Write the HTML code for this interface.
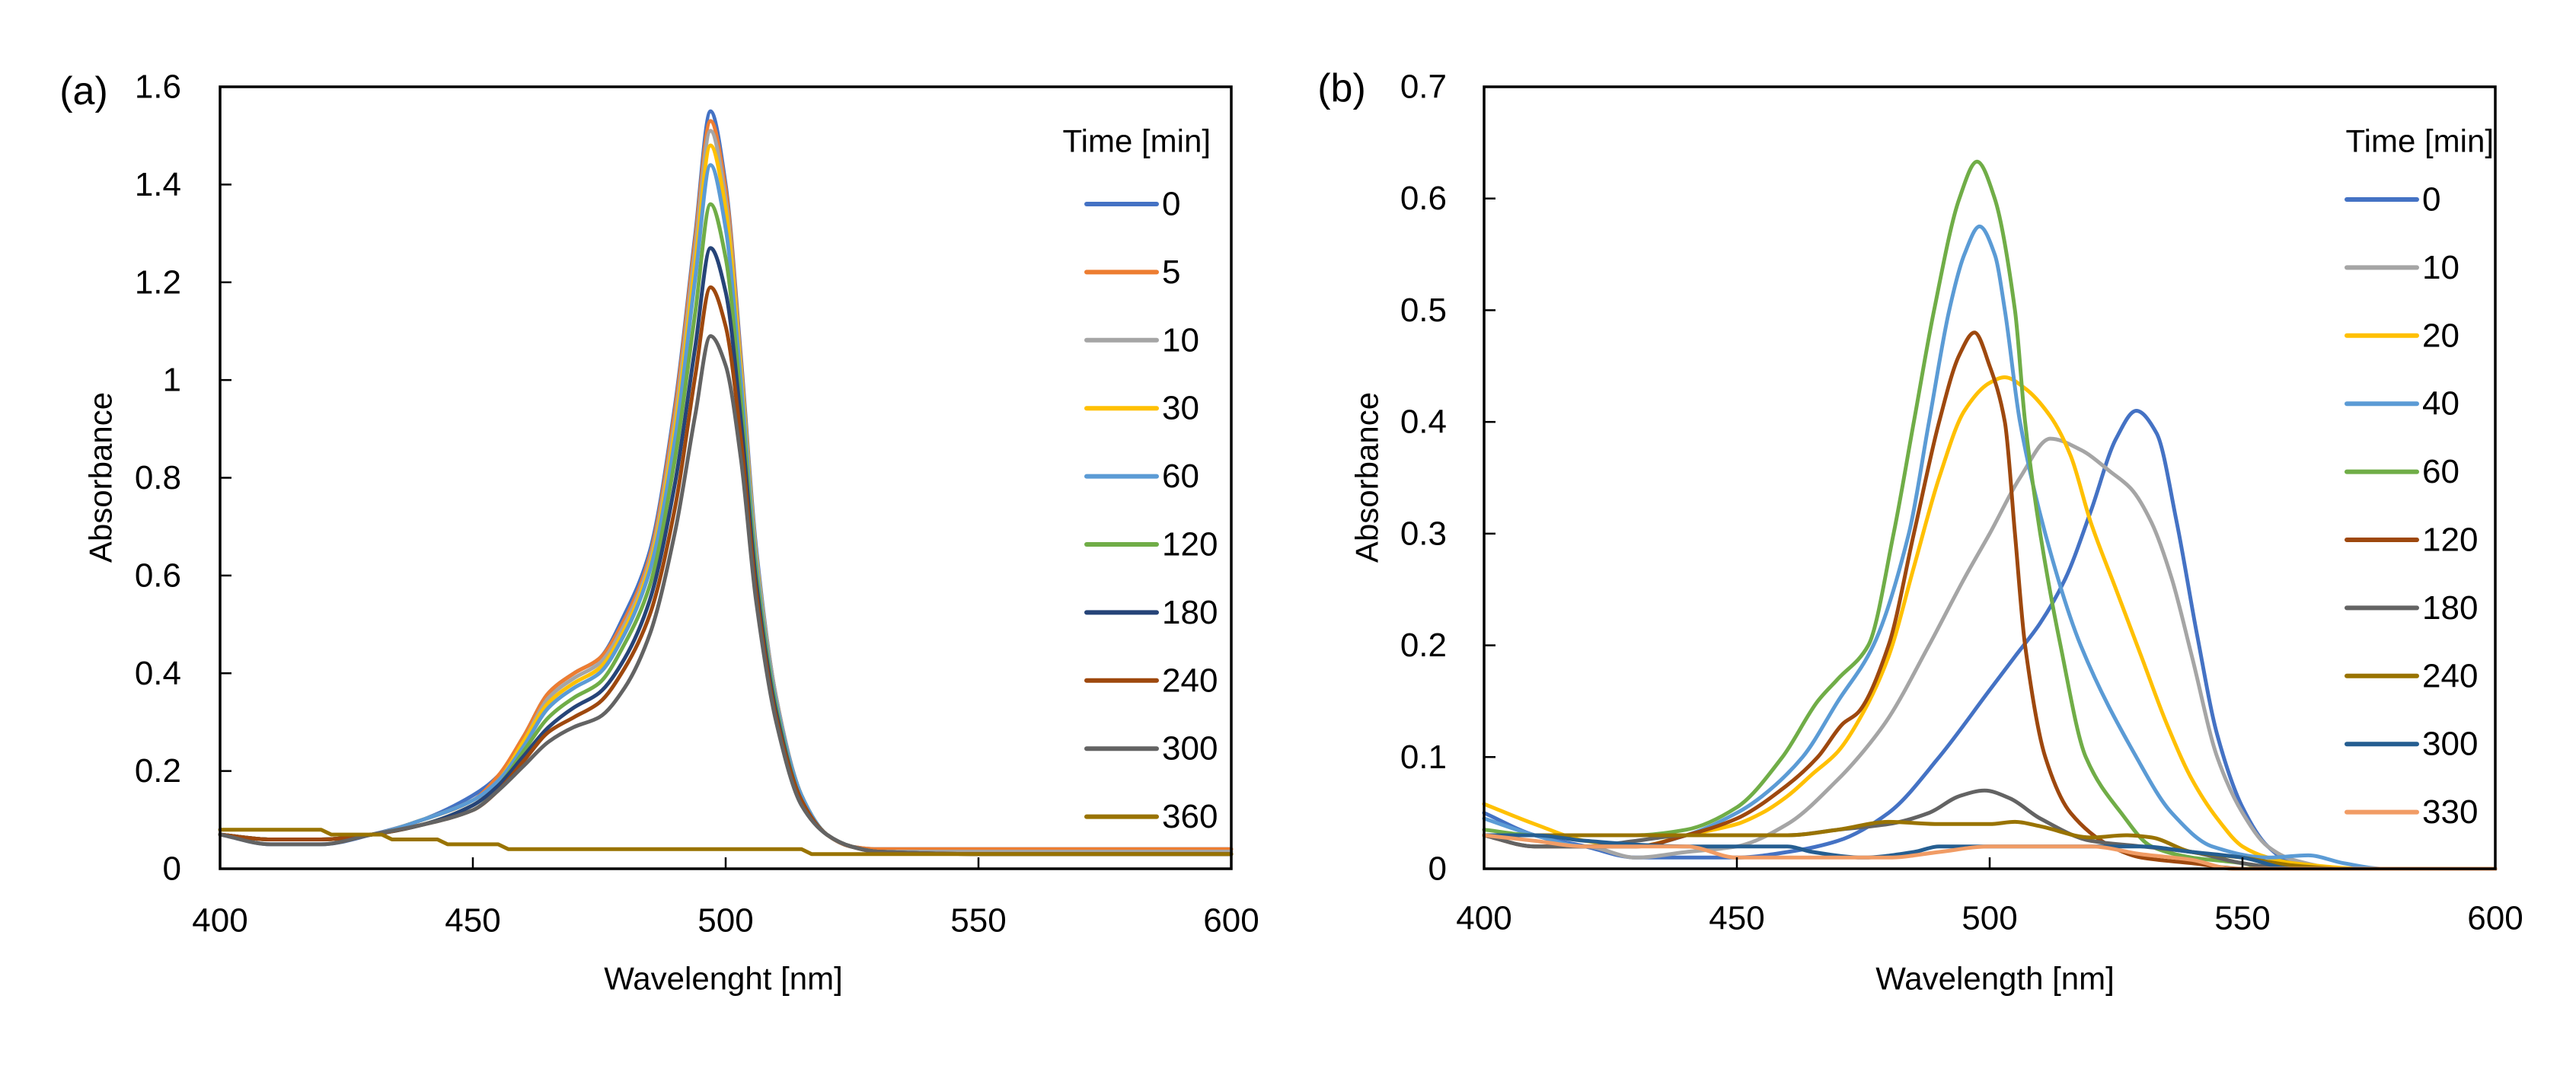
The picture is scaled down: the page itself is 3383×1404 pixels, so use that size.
<!DOCTYPE html>
<html><head><meta charset="utf-8">
<style>
html,body{margin:0;padding:0;background:#fff;}
svg{display:block;font-family:"Liberation Sans",sans-serif;}
</style></head>
<body>
<svg id="fig" width="3383" height="1404" viewBox="0 0 3383 1404" xmlns="http://www.w3.org/2000/svg">
<rect width="3383" height="1404" fill="#fff"/>
<g id="chartA"></g>
<g id="chartB"></g>
</svg>
<script>
// ---- Chart (a) data ----
const aLabels = ["0","5","10","30","60","120","180","240","300","360"];
const aColors = ["#4472C4","#ED7D31","#A5A5A5","#FFC000","#5B9BD5","#70AD47","#264478","#9E480E","#636363","#997300"];
const aX = [400,410,420,430,440,450,455,460,465,470,475,480,485,490,494,497,500,503,506,510,515,520,525,530,550,600];
const aY0 = [0.07,0.05,0.05,0.07,0.10,0.15,0.19,0.27,0.36,0.40,0.43,0.52,0.65,0.95,1.30,1.55,1.40,1.05,0.66,0.35,0.15,0.07,0.045,0.04,0.04,0.04];
const aY5 = [0.07,0.06,0.06,0.07,0.10,0.14,0.19,0.27,0.36,0.40,0.43,0.51,0.64,0.94,1.29,1.53,1.39,1.04,0.65,0.35,0.15,0.07,0.045,0.04,0.04,0.04];
const aY10 = [0.07,0.06,0.06,0.07,0.10,0.14,0.18,0.26,0.35,0.39,0.42,0.50,0.63,0.92,1.27,1.51,1.37,1.03,0.65,0.35,0.15,0.07,0.045,0.035,0.035,0.035];
const aY30 = [0.07,0.06,0.06,0.07,0.10,0.14,0.18,0.26,0.34,0.38,0.41,0.49,0.62,0.90,1.24,1.48,1.35,1.02,0.64,0.34,0.15,0.07,0.045,0.035,0.03,0.03];
const aY60 = [0.07,0.06,0.06,0.07,0.10,0.14,0.18,0.25,0.33,0.37,0.40,0.48,0.61,0.88,1.21,1.44,1.31,1.00,0.63,0.34,0.15,0.07,0.045,0.035,0.03,0.03];
const aY120 = [0.07,0.06,0.06,0.07,0.09,0.13,0.17,0.24,0.31,0.35,0.38,0.46,0.58,0.84,1.14,1.36,1.25,0.96,0.61,0.33,0.14,0.07,0.045,0.035,0.03,0.03];
const aY180 = [0.07,0.06,0.06,0.07,0.09,0.13,0.17,0.23,0.29,0.33,0.36,0.43,0.55,0.79,1.07,1.27,1.18,0.92,0.59,0.32,0.14,0.07,0.045,0.035,0.03,0.03];
const aY240 = [0.07,0.06,0.06,0.07,0.09,0.12,0.16,0.22,0.28,0.31,0.34,0.41,0.52,0.74,1.01,1.19,1.11,0.88,0.57,0.31,0.14,0.07,0.045,0.035,0.03,0.03];
const aY300 = [0.07,0.05,0.05,0.07,0.09,0.12,0.16,0.21,0.26,0.29,0.31,0.37,0.48,0.69,0.93,1.09,1.03,0.84,0.55,0.30,0.13,0.07,0.045,0.035,0.03,0.03];
const aX360 = [400,420,422,432,434,443,445,455,457,515,517,600];
const aY360 = [0.08,0.08,0.07,0.07,0.06,0.06,0.05,0.05,0.04,0.04,0.03,0.03];
const aYTicks = [0,0.2,0.4,0.6,0.8,1,1.2,1.4,1.6];
const aYTickLabels = ["0","0.2","0.4","0.6","0.8","1","1.2","1.4","1.6"];
const xTicks = [400,450,500,550,600];
const xTickLabels = ["400","450","500","550","600"];

// ---- Chart (b) data ----
const bLabels = ["0","10","20","40","60","120","180","240","300","330"];
const bColors = ["#4472C4","#A5A5A5","#FFC000","#5B9BD5","#70AD47","#9E480E","#636363","#997300","#255E91","#F19C65"];
const bX0 = [400,410,420,430,440,450,460,470,480,490,500,505,510,515,520,525,529,533,537,541,545,550,555,560,570,600];
const bY0 = [0.05,0.03,0.02,0.01,0.01,0.01,0.015,0.025,0.05,0.10,0.16,0.19,0.22,0.26,0.32,0.385,0.41,0.39,0.31,0.21,0.12,0.055,0.02,0.005,0,0];
const bX10 = [400,410,420,430,440,450,460,470,475,480,488,495,500,506,512,518,524,528,532,536,540,545,550,555,560,570,600];
const bY10 = [0.03,0.02,0.02,0.01,0.015,0.02,0.04,0.08,0.105,0.135,0.20,0.26,0.30,0.35,0.385,0.375,0.355,0.34,0.31,0.26,0.19,0.10,0.05,0.02,0.008,0,0];
const bX20 = [400,410,420,430,440,450,455,460,465,470,475,480,485,490,495,500,503,507,512,516,520,525,530,535,540,545,550,555,560,575,600];
const bY20 = [0.058,0.04,0.025,0.02,0.03,0.04,0.05,0.065,0.085,0.105,0.14,0.19,0.27,0.35,0.41,0.435,0.44,0.43,0.405,0.37,0.31,0.25,0.19,0.13,0.08,0.045,0.02,0.01,0.005,0,0];
const bX40 = [400,410,420,430,440,450,455,463,470,477,484,488,492,495,498,501,503,506,511,518,529,536,544,555,563,570,578,600];
const bY40 = [0.045,0.03,0.02,0.02,0.03,0.05,0.065,0.10,0.15,0.20,0.30,0.40,0.50,0.55,0.575,0.55,0.50,0.40,0.30,0.20,0.10,0.05,0.02,0.01,0.012,0.005,0,0];
const bX60 = [400,410,420,430,440,450,459,466,470,476,481,485,489,494,497.5,501,505,507,510,514,519,526,532,540,550,555,600];
const bY60 = [0.035,0.03,0.03,0.03,0.035,0.055,0.10,0.15,0.17,0.20,0.30,0.40,0.50,0.60,0.633,0.60,0.50,0.40,0.30,0.20,0.10,0.05,0.02,0.01,0.005,0,0];
const bX120 = [400,410,420,430,440,450,460,466,471,474,480,485,490,494,497,500,503,505,507,511,516,524,530,540,550,600];
const bY120 = [0.03,0.02,0.02,0.02,0.03,0.045,0.075,0.10,0.13,0.14,0.20,0.30,0.40,0.46,0.48,0.45,0.40,0.30,0.20,0.10,0.05,0.02,0.01,0.005,0,0];
const bX180 = [400,410,420,430,440,450,460,470,480,488,494,499,504,510,520,530,540,550,560,600];
const bY180 = [0.03,0.02,0.02,0.025,0.03,0.03,0.03,0.035,0.04,0.05,0.065,0.07,0.063,0.045,0.025,0.02,0.015,0.005,0,0];
const bX240 = [400,410,440,460,470,480,490,500,505,510,520,527,532,540,550,560,570,600];
const bY240 = [0.03,0.03,0.03,0.03,0.035,0.042,0.04,0.04,0.042,0.038,0.028,0.03,0.028,0.015,0.01,0.003,0,0];
const bX300 = [400,410,420,440,460,465,475,485,490,500,510,520,530,540,550,560,600];
const bY300 = [0.03,0.03,0.025,0.02,0.02,0.015,0.01,0.015,0.02,0.02,0.02,0.02,0.02,0.015,0.01,0,0];
const bX330 = [400,410,420,430,440,450,460,470,480,490,500,510,520,530,540,548,600];
const bY330 = [0.03,0.025,0.02,0.02,0.02,0.01,0.01,0.01,0.01,0.015,0.02,0.02,0.02,0.013,0.008,0,0];
const bYTicks = [0,0.1,0.2,0.3,0.4,0.5,0.6,0.7];
const bYTickLabels = ["0","0.1","0.2","0.3","0.4","0.5","0.6","0.7"];

const NS = "http://www.w3.org/2000/svg";
function mk(tag, attrs, parent){
  const e = document.createElementNS(NS, tag);
  for (const k in attrs) e.setAttribute(k, attrs[k]);
  parent.appendChild(e);
  return e;
}
function monotonePath(px, py){
  const n = px.length;
  if (n < 2) return "";
  const d = [], m = new Array(n);
  for (let i=0;i<n-1;i++) d.push((py[i+1]-py[i])/(px[i+1]-px[i]));
  m[0]=d[0]; m[n-1]=d[n-2];
  for (let i=1;i<n-1;i++){
    if (d[i-1]*d[i] <= 0) m[i]=0;
    else m[i] = 2/(1/d[i-1]+1/d[i]);
  }
  let s = "M"+px[0].toFixed(1)+","+py[0].toFixed(1);
  for (let i=0;i<n-1;i++){
    const h = px[i+1]-px[i];
    s += " C"+(px[i]+h/3).toFixed(1)+","+(py[i]+m[i]*h/3).toFixed(1)+" "+(px[i+1]-h/3).toFixed(1)+","+(py[i+1]-m[i+1]*h/3).toFixed(1)+" "+px[i+1].toFixed(1)+","+py[i+1].toFixed(1);
  }
  return s;
}

function drawChart(g, cfg){
  const L=cfg.left, R=cfg.right, T=cfg.top, B=cfg.bottom;
  const xs = v => L + (v-400)/200*(R-L);
  const ys = v => B - v/cfg.ymax*(B-T);
  // series
  cfg.series.forEach((s, i) => {
    const px = s.x.map(xs), py = s.y.map(ys);
    const d = s.step ? "M"+px.map((x,j)=>x.toFixed(1)+","+py[j].toFixed(1)).join(" L") : monotonePath(px, py);
    const p = mk("path", {d:d, fill:"none", stroke:cfg.colors[i], "stroke-width":5, "stroke-linejoin":"round", "stroke-linecap":"round"}, g);
    
    
  });
  // frame
  const fr = mk("rect", {x:L, y:T, width:R-L, height:B-T, fill:"none", stroke:"#000", "stroke-width":3.5}, g);
  
  
  // y ticks
  cfg.yticks.forEach((v, i) => {
    const y = ys(v);
    const t = mk("line", {x1:L, x2:L+15, y1:y, y2:y, stroke:"#000", "stroke-width":2.5}, g);
    
    
    const tx = mk("text", {x:cfg.ylabRight, y:y, "text-anchor":"end", "dominant-baseline":"central", "font-size":44, fill:"#000"}, g);
    tx.textContent = cfg.ytickLabels[i];
    
    
  });
  // x ticks
  xTicks.forEach((v, i) => {
    const x = xs(v);
    const t = mk("line", {x1:x, x2:x, y1:B, y2:B-15, stroke:"#000", "stroke-width":2.5}, g);
    
    
    const tx = mk("text", {x:x, y:cfg.xlabY, "text-anchor":"middle", "dominant-baseline":"central", "font-size":44, fill:"#000"}, g);
    tx.textContent = xTickLabels[i];
    
    
  });
  // axis titles
  const xt = mk("text", {x:cfg.xtitleX, y:1285, "text-anchor":"middle", "dominant-baseline":"central", "font-size":42, fill:"#000"}, g);
  xt.textContent = cfg.xtitle;
  
  
  const yt = mk("text", {x:0, y:0, transform:"translate("+cfg.ytitleX+",627) rotate(-90)", "text-anchor":"middle", "dominant-baseline":"central", "font-size":42, fill:"#000"}, g);
  yt.textContent = "Absorbance";
  
  
  // panel label
  const pl = mk("text", {x:cfg.panelX, y:cfg.panelY, "text-anchor":"middle", "dominant-baseline":"central", "font-size":52, fill:"#000"}, g);
  pl.textContent = cfg.panel;
  
  
  // legend
  const lg = mk("g", {}, g);
  
  
  const lt = mk("text", {x:cfg.legTitleRight, y:185, "text-anchor":"end", "dominant-baseline":"central", "font-size":42, fill:"#000"}, lg);
  lt.textContent = "Time [min]";
  
  
  cfg.labels.forEach((lab, i) => {
    const y = cfg.legY0 + i*89.4;
    const e = mk("g", {}, lg);
    
    
    mk("line", {x1:cfg.legX1, x2:cfg.legX2, y1:y, y2:y, stroke:cfg.colors[i], "stroke-width":6, "stroke-linecap":"round"}, e);
    const tx = mk("text", {x:cfg.legX2+7, y:y, "dominant-baseline":"central", "font-size":44, fill:"#000"}, e);
    tx.textContent = lab;
  });
}

drawChart(document.getElementById("chartA"), {
  left:289, right:1617, top:114, bottom:1141, ymax:1.6,
  yticks:aYTicks, ytickLabels:aYTickLabels, ylabRight:238, xlabY:1209,
  xtitle:"Wavelenght [nm]", xtitleX:950, ytitleX:132,
  panel:"(a)", panelX:110, panelY:120,
  legTitleRight:1590, legY0:268, legX1:1427, legX2:1519,
  labels:aLabels, colors:aColors,
  series:[
    {x:aX,y:aY0},{x:aX,y:aY5},{x:aX,y:aY10},{x:aX,y:aY30},{x:aX,y:aY60},
    {x:aX,y:aY120},{x:aX,y:aY180},{x:aX,y:aY240},{x:aX,y:aY300},{x:aX360,y:aY360,step:true}
  ]
});
drawChart(document.getElementById("chartB"), {
  left:1949, right:3277, top:114, bottom:1141, ymax:0.7,
  yticks:bYTicks, ytickLabels:bYTickLabels, ylabRight:1900, xlabY:1206,
  xtitle:"Wavelength [nm]", xtitleX:2620, ytitleX:1795,
  panel:"(b)", panelX:1762, panelY:116,
  legTitleRight:3275, legY0:262, legX1:3082, legX2:3174,
  labels:bLabels, colors:bColors,
  series:[
    {x:bX0,y:bY0},{x:bX10,y:bY10},{x:bX20,y:bY20},{x:bX40,y:bY40},{x:bX60,y:bY60},
    {x:bX120,y:bY120},{x:bX180,y:bY180},{x:bX240,y:bY240},{x:bX300,y:bY300},{x:bX330,y:bY330}
  ]
});
</script>
</body></html>
